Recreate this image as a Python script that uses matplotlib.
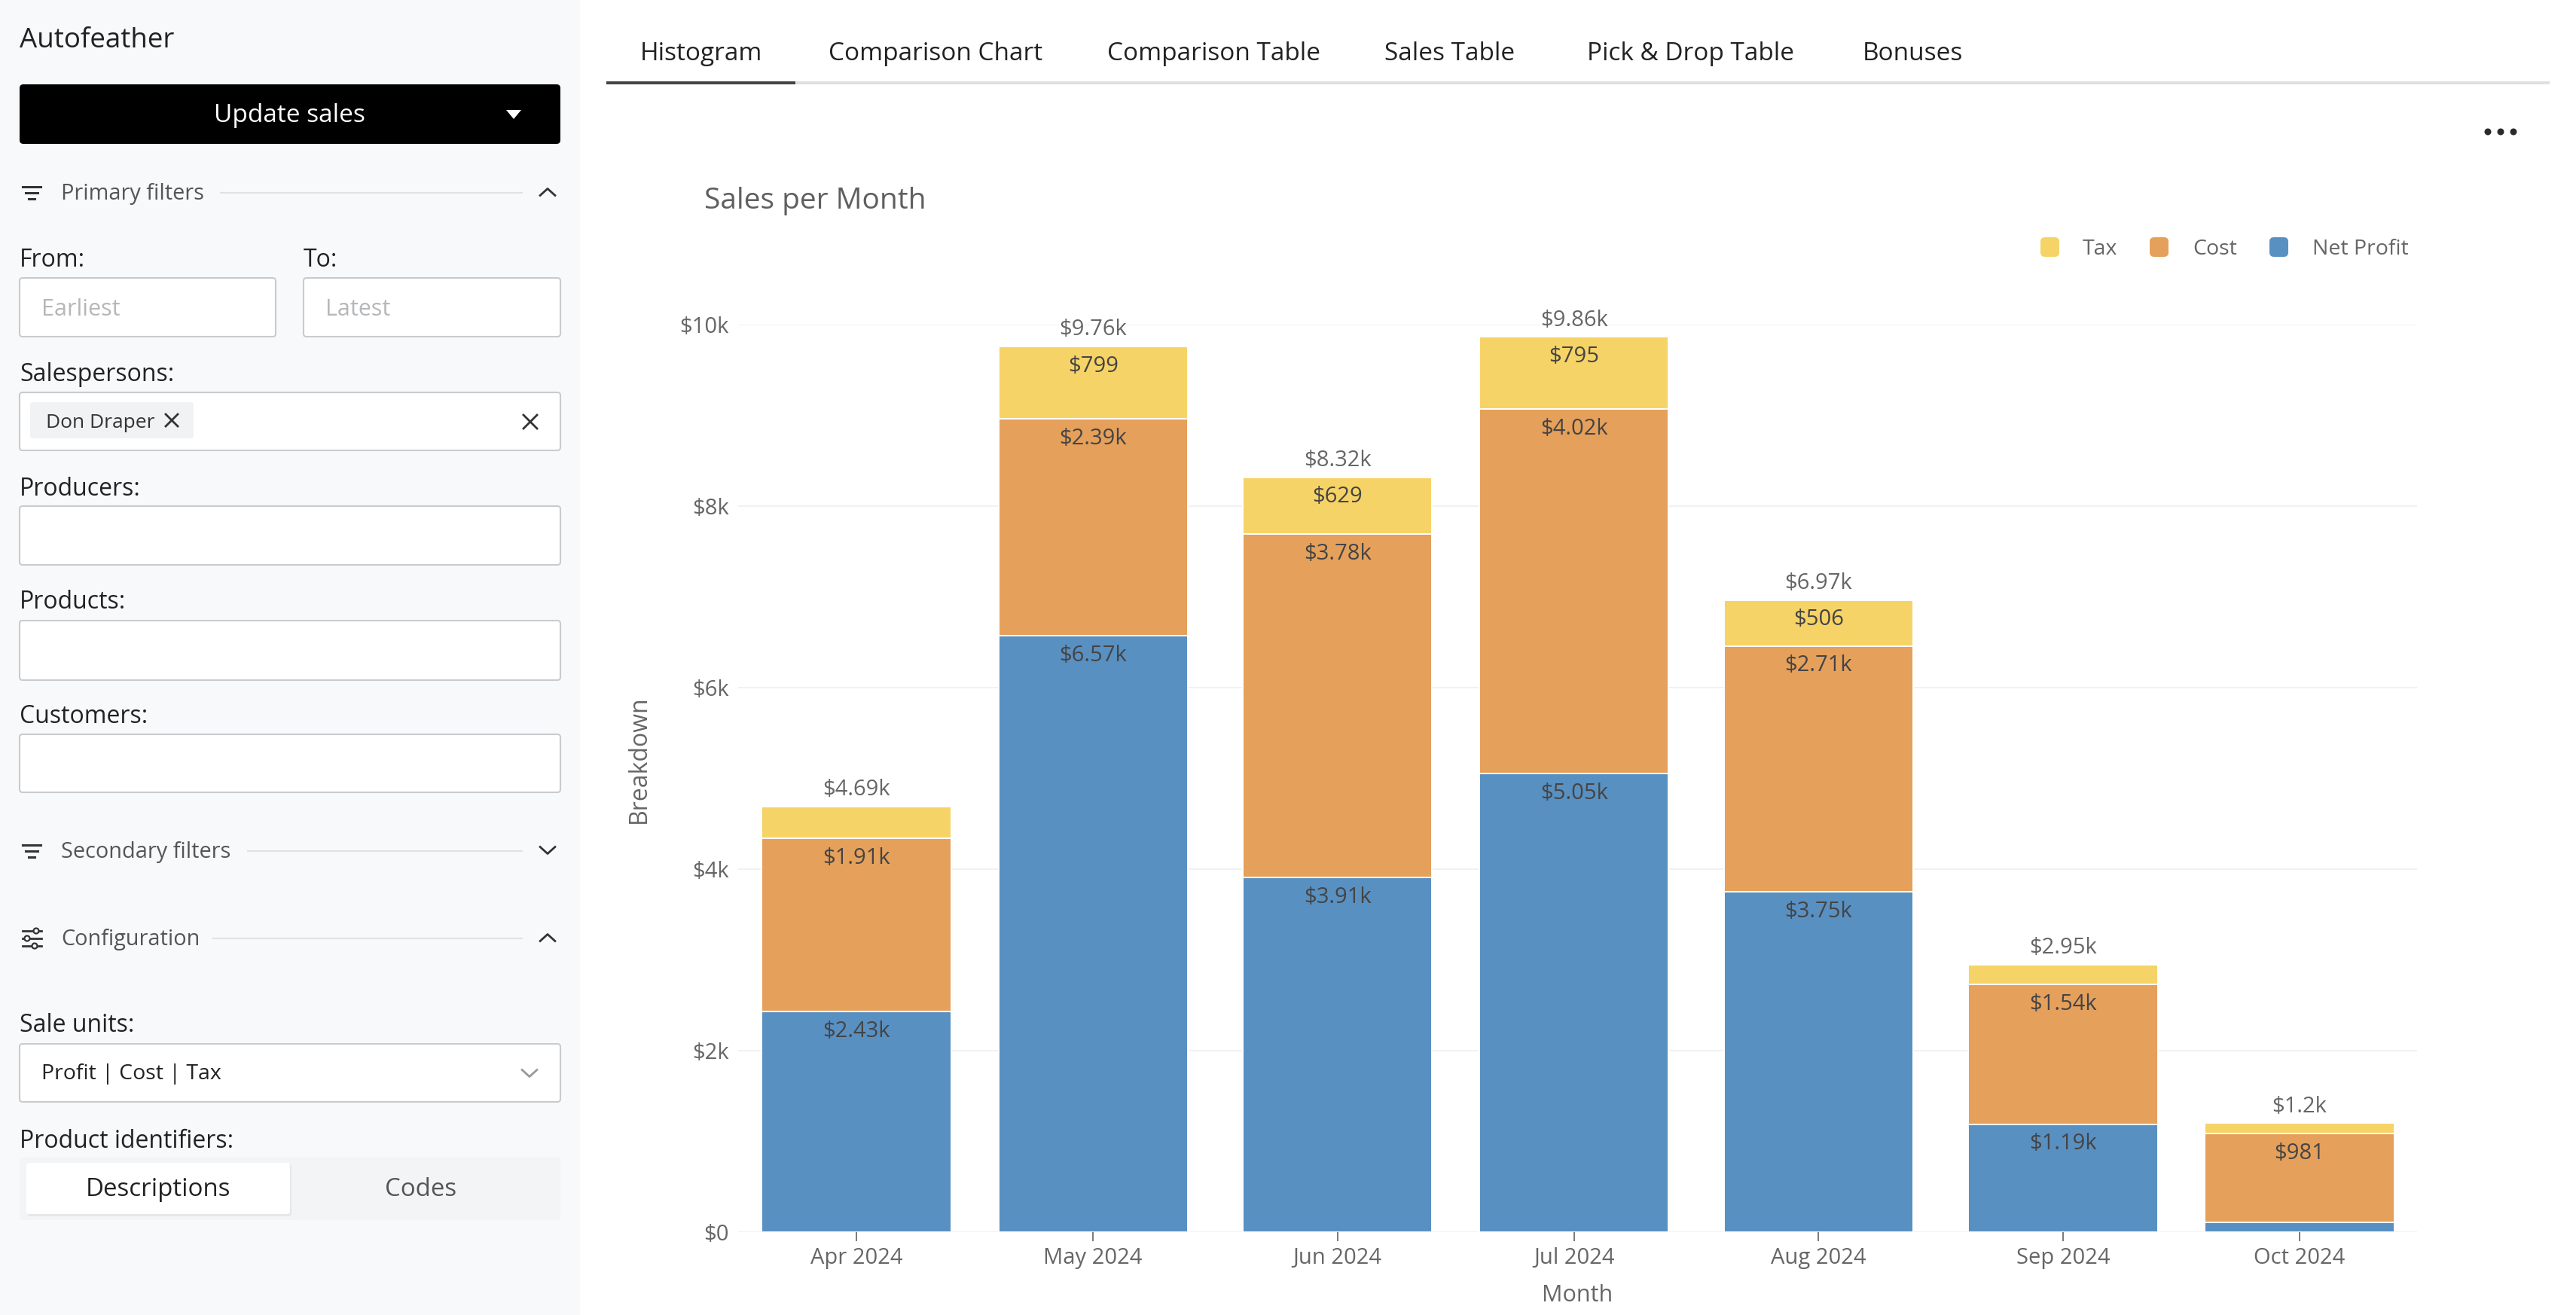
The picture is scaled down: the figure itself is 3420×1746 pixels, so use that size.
import datetime as dt

import matplotlib
matplotlib.use("Agg")
import matplotlib.dates as mdates
import matplotlib.pyplot as plt
from matplotlib.patches import Circle, FancyBboxPatch, Polygon, Rectangle

plt.rcParams["font.family"] = ["Open Sans", "DejaVu Sans"]

W, H = 3420, 1746

months = ["2024-04-01", "2024-05-01", "2024-06-01", "2024-07-01", "2024-08-01", "2024-09-01", "2024-10-01"]
month_labels = ["Apr 2024", "May 2024", "Jun 2024", "Jul 2024", "Aug 2024", "Sep 2024", "Oct 2024"]
net_profit = [2430, 6570, 3910, 5050, 3750, 1190, 105]
cost = [1910, 2390, 3780, 4020, 2710, 1540, 981]
tax = [350, 799, 629, 795, 506, 220, 114]
net_labels = ["$2.43k", "$6.57k", "$3.91k", "$5.05k", "$3.75k", "$1.19k", ""]
cost_labels = ["$1.91k", "$2.39k", "$3.78k", "$4.02k", "$2.71k", "$1.54k", "$981"]
tax_labels = ["", "$799", "$629", "$795", "$506", "", ""]
total_labels = ["$4.69k", "$9.76k", "$8.32k", "$9.86k", "$6.97k", "$2.95k", "$1.2k"]
y_ticks = [0, 2000, 4000, 6000, 8000, 10000]
y_tick_labels = ["$0", "$2k", "$4k", "$6k", "$8k", "$10k"]
tabs = ["Histogram", "Comparison Chart", "Comparison Table", "Sales Table", "Pick & Drop Table", "Bonuses"]
tab_x = [850, 1100, 1470, 1838, 2107, 2473]

BLUE = "#5990c2"
ORANGE = "#e5a05b"
YELLOW = "#f6d366"
GREY_TEXT = "#666666"
DARK_TEXT = "#444444"
BOX_EDGE = "#c9cbcd"

TEXT_DY = 4
LABEL_SIZE = 21


def rbox(ax, x0, y0, x1, y1, fc, ec="none", lw=0, r=4, z=1):
    ax.add_patch(FancyBboxPatch((x0 + r, y0 + r), x1 - x0 - 2 * r, y1 - y0 - 2 * r,
                                boxstyle=f"round,pad={r},rounding_size={r}",
                                fc=fc, ec=ec, lw=lw, zorder=z))


def chevron(ax, x, y, up=True, color="#333333", size=9):
    d = -size if up else size
    ax.plot([x - size * 1.1, x, x + size * 1.1], [y - d / 2, y + d / 2, y - d / 2],
            color=color, lw=2, zorder=3)


def cross(ax, x, y, size=9, color="#333333"):
    ax.plot([x - size, x + size], [y - size, y + size], color=color, lw=2, zorder=3)
    ax.plot([x - size, x + size], [y + size, y - size], color=color, lw=2, zorder=3)


def filter_icon(ax, y):
    for dy, half in [(-8, 12), (0, 8), (8, 4)]:
        ax.plot([42 - half, 42 + half], [y + dy, y + dy], color="#333333", lw=2.2, zorder=3)


def sliders_icon(ax, y):
    for dy, cx in [(-10, 48), (0, 36), (10, 46)]:
        ax.plot([30, 55], [y + dy, y + dy], color="#333333", lw=2, zorder=3)
        ax.add_patch(Circle((cx, y + dy), 3.5, fc="#f8f9fb", ec="#333333", lw=1.6, zorder=4))


def section(ax, label, y, line_start, up, icon):
    icon(ax, y)
    ax.text(81, y + 2, label, fontsize=20.8, color="#555555", va="center")
    ax.plot([line_start, 693], [y, y], color="#e0e2e4", lw=1.5, zorder=2)
    chevron(ax, 727, y - 1, up=up)


def draw_sidebar(ax):
    ax.add_patch(Rectangle((0, 0), 770, H, fc="#f8f9fb", ec="none", zorder=0))
    ax.text(26, 50 + TEXT_DY, "Autofeather", fontsize=26.5, color="#222222", va="center")

    rbox(ax, 26, 112, 744, 191, "black", r=5)
    ax.text(384, 151 + TEXT_DY - 1, "Update sales", fontsize=24, color="white", ha="center", va="center", zorder=3)
    ax.add_patch(Polygon([(672, 146), (692, 146), (682, 158)], fc="white", ec="none", zorder=3))

    section(ax, "Primary filters", 256, 293, True, filter_icon)

    labels = [("From:", 26, 342), ("To:", 403, 342), ("Salespersons:", 26, 494), ("Producers:", 26, 645),
              ("Products:", 26, 796), ("Customers:", 26, 948), ("Sale units:", 26, 1358),
              ("Product identifiers:", 26, 1512)]
    for text, x, y in labels:
        ax.text(x, y + TEXT_DY, text, fontsize=23, color="#222222", va="center")

    boxes = [(26, 369, 366, 447), (403, 369, 744, 447), (26, 521, 744, 598), (26, 672, 744, 750),
             (26, 824, 744, 903), (26, 975, 744, 1052), (26, 1386, 744, 1463)]
    for x0, y0, x1, y1 in boxes:
        rbox(ax, x0, y0, x1, y1, "white", ec=BOX_EDGE, lw=1.5)

    ax.text(55, 408 + TEXT_DY - 1, "Earliest", fontsize=22, color="#b5b7b9", va="center", zorder=3)
    ax.text(432, 408 + TEXT_DY - 1, "Latest", fontsize=22, color="#b5b7b9", va="center", zorder=3)

    rbox(ax, 40, 534, 257, 582, "#f1f2f4", z=2)
    ax.text(61, 558 + TEXT_DY - 1, "Don Draper", fontsize=19, color="#333333", va="center", zorder=3)
    cross(ax, 228, 558, size=8)
    cross(ax, 704, 560, size=9)

    section(ax, "Secondary filters", 1130, 329, False, filter_icon)
    section(ax, "Configuration", 1246, 283, True, sliders_icon)

    ax.text(55, 1424 + TEXT_DY - 2, "Profit | Cost | Tax", fontsize=20.5, color="#222222", va="center", zorder=3)
    chevron(ax, 703, 1425, up=False, color="#999999")

    rbox(ax, 26, 1537, 744, 1620, "#f3f4f6", z=1)
    rbox(ax, 37, 1546, 387, 1615, "#e6e7e9", z=2)
    rbox(ax, 35, 1544, 385, 1612, "white", z=2)
    ax.text(210, 1578 + TEXT_DY - 2, "Descriptions", fontsize=23.8, color="#222222", ha="center", va="center", zorder=3)
    ax.text(559, 1578 + TEXT_DY - 2, "Codes", fontsize=23.8, color="#555555", ha="center", va="center", zorder=3)


def draw_header(ax):
    for text, x in zip(tabs, tab_x):
        ax.text(x, 72, text, fontsize=24, color="#222222", va="center")
    ax.add_patch(Rectangle((805, 108), 3385 - 805, 4, fc="#dee0e0", ec="none", zorder=1))
    ax.add_patch(Rectangle((805, 108), 1056 - 805, 4, fc="#444444", ec="none", zorder=2))
    for x in [3303, 3320, 3337]:
        ax.add_patch(Circle((x, 175), 4.5, fc="#2b2b2b", ec="none", zorder=2))

    ax.text(935, 267, "Sales per Month", fontsize=28, color="#5f5f5f", va="center")
    entries = [("Tax", YELLOW, 2709, 2765), ("Cost", ORANGE, 2854, 2911), ("Net Profit", BLUE, 3013, 3070)]
    for name, color, sx, tx in entries:
        rbox(ax, sx, 315, sx + 25, 341, color, r=6)
        ax.text(tx, 331, name, fontsize=LABEL_SIZE - 0.5, color=GREY_TEXT, va="center")


def label_segments(ax, x, tops, labels):
    for xi, top, text in zip(x, tops, labels):
        if text:
            ax.annotate(text, (xi, top), xytext=(0, -19), textcoords="offset points",
                        ha="center", va="center", fontsize=LABEL_SIZE, color=DARK_TEXT)


def draw_chart(fig):
    ax = fig.add_axes([980 / W, 1 - 1636 / H, (3209 - 980) / W, (1636 - 431) / H])
    ax.patch.set_alpha(0)

    x = [mdates.date2num(dt.date.fromisoformat(m)) for m in months]
    bar_days = 24.0
    edge = dict(edgecolor="white", linewidth=1.4)
    cost_base = [n for n in net_profit]
    tax_base = [n + c for n, c in zip(net_profit, cost)]
    totals = [b + t for b, t in zip(tax_base, tax)]
    ax.bar(x, net_profit, width=bar_days, color=BLUE, zorder=2, **edge)
    ax.bar(x, cost, width=bar_days, bottom=cost_base, color=ORANGE, zorder=2, **edge)
    ax.bar(x, tax, width=bar_days, bottom=tax_base, color=YELLOW, zorder=2, **edge)

    label_segments(ax, x, net_profit, net_labels)
    label_segments(ax, x, tax_base, cost_labels)
    label_segments(ax, x, totals, tax_labels)
    for xi, top, text in zip(x, totals, total_labels):
        ax.annotate(text, (xi, top), xytext=(0, 16), textcoords="offset points",
                    ha="center", va="center", fontsize=LABEL_SIZE, color=GREY_TEXT)

    ax.set_xlim(x[0] - 15.0, x[-1] + 14.9)
    ax.set_ylim(0, 10000)
    ax.set_xticks(x)
    ax.set_xticklabels(month_labels)
    ax.set_yticks(y_ticks)
    ax.set_yticklabels(y_tick_labels)
    ax.tick_params(axis="x", length=8.5, width=1.1, color="#555555", labelcolor=GREY_TEXT,
                   labelsize=LABEL_SIZE, pad=6)
    ax.tick_params(axis="y", length=0, labelcolor=GREY_TEXT, labelsize=LABEL_SIZE, pad=9)
    ax.grid(axis="y", color="#f0f1f2", lw=1.4, zorder=0)
    ax.set_axisbelow(True)
    for spine in ax.spines.values():
        spine.set_visible(False)

    ax.set_ylabel("Breakdown", fontsize=23, color=GREY_TEXT, va="center")
    ax.yaxis.set_label_coords((848 - 980) / 2229, (1636 - 1008) / 1205)
    ax.set_xlabel("Month", fontsize=22, color=GREY_TEXT, va="center")
    ax.xaxis.set_label_coords((2094 - 980) / 2229, -(1720 - 1636) / 1205)


def main():
    fig = plt.figure(figsize=(W / 100, H / 100), dpi=100, facecolor="white")
    ui = fig.add_axes([0, 0, 1, 1])
    ui.set_xlim(0, W)
    ui.set_ylim(H, 0)
    ui.axis("off")

    draw_sidebar(ui)
    draw_header(ui)
    draw_chart(fig)

    fig.savefig("out.png", dpi=100)
    plt.close(fig)


if __name__ == "__main__":
    main()
